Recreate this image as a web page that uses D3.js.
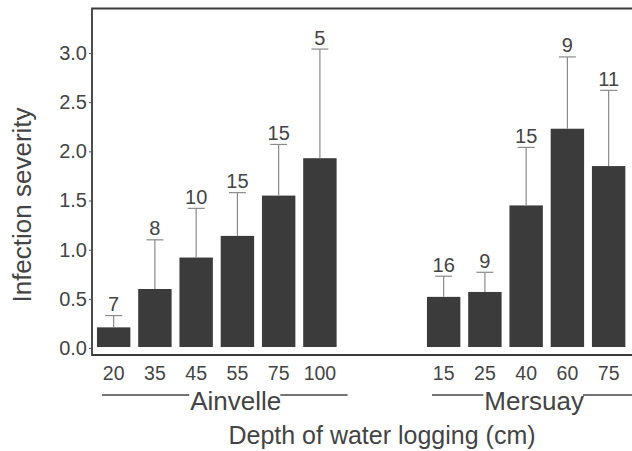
<!DOCTYPE html>
<html>
<head>
<meta charset="utf-8">
<script src="https://cdn.jsdelivr.net/npm/d3@7/dist/d3.min.js"></script>
<style>
  html, body { margin: 0; padding: 0; background: #fff; }
  svg { display: block; font-family: "Liberation Sans", Arial, Helvetica, sans-serif; }
</style>
</head>
<body>
<svg id="chart" width="632" height="451"></svg>
<script>
// Sites and the water-logging depths (cm) sampled at each
const sites = ["Ainvelle", "Mersuay"];
const ainvelleDepths = ["20", "35", "45", "55", "75", "100"];
const mersuayDepths = ["15", "25", "40", "60", "75"];

// Mean infection severity per depth
const ainvelleMeans = [0.21, 0.60, 0.92, 1.14, 1.55, 1.93];
const mersuayMeans = [0.52, 0.57, 1.45, 2.23, 1.85];

// Upper error (standard deviation) per depth
const ainvelleErrors = [0.12, 0.50, 0.50, 0.44, 0.52, 1.11];
const mersuayErrors = [0.21, 0.20, 0.59, 0.73, 0.77];

// Number of samples per depth
const ainvelleCounts = [7, 8, 10, 15, 15, 5];
const mersuayCounts = [16, 9, 15, 9, 11];

// Y axis tick values
const yTicks = [0.0, 0.5, 1.0, 1.5, 2.0, 2.5, 3.0];

const groups = [
  { site: sites[0], depths: ainvelleDepths, means: ainvelleMeans, errors: ainvelleErrors, counts: ainvelleCounts },
  { site: sites[1], depths: mersuayDepths, means: mersuayMeans, errors: mersuayErrors, counts: mersuayCounts }
];

const rows = [];
groups.forEach((g, gi) => {
  g.depths.forEach((d, i) => {
    rows.push({ key: g.site + "-" + d, site: g.site, depth: d, mean: g.means[i], err: g.errors[i], n: g.counts[i], group: gi });
  });
});

// Category slots: two empty slots separate the sites
const slots = [];
groups.forEach((g, gi) => {
  if (gi > 0) { slots.push("gap-" + gi + "-a", "gap-" + gi + "-b"); }
  g.depths.forEach(d => slots.push(g.site + "-" + d));
});

const svg = d3.select("#chart");
const textColor = "#444";
const fontFamily = "'Liberation Sans', Arial, sans-serif";
const frame = { left: 92, top: 8.5, bottom: 355, right: 720 };

const x = d3.scaleBand()
  .domain(slots)
  .range([92, 630.3])
  .paddingInner(0.19)
  .paddingOuter(0.12);

const y = d3.scaleLinear()
  .domain([0, 3])
  .range([348, 53]);

// Frame around the plot (extends past the right edge)
svg.append("path")
  .attr("d", `M${frame.right},${frame.top}H${frame.left}V${frame.bottom}H${frame.right}`)
  .attr("fill", "none")
  .attr("stroke", "#3a3a3a")
  .attr("stroke-width", 1.8);

// Y axis
const yAxis = svg.append("g")
  .attr("transform", `translate(${frame.left},0)`)
  .call(d3.axisLeft(y).tickValues(yTicks).tickFormat(d3.format(".1f")).tickSize(3).tickPadding(2));
yAxis.select(".domain").remove();
yAxis.selectAll(".tick line").attr("stroke", "#555");
yAxis.selectAll(".tick text")
  .attr("font-size", 20)
  .attr("fill", textColor)
  .style("font-family", fontFamily);

// X axis: depth labels under each bar
const xAxis = svg.append("g")
  .attr("transform", `translate(0,${frame.bottom})`)
  .call(d3.axisBottom(x)
    .tickValues(rows.map(r => r.key))
    .tickFormat(k => k.split("-")[1])
    .tickSize(0)
    .tickPadding(11));
xAxis.select(".domain").remove();
xAxis.selectAll(".tick text")
  .attr("font-size", 19.5)
  .attr("fill", textColor)
  .style("font-family", fontFamily);

// Bars
svg.append("g").selectAll("rect")
  .data(rows)
  .join("rect")
  .attr("x", d => x(d.key))
  .attr("width", x.bandwidth())
  .attr("y", d => y(d.mean))
  .attr("height", d => y(0) - 1 - y(d.mean))
  .attr("fill", "#3b3b3b");

// Error bars
const capHalf = 8.5;
const eb = svg.append("g").attr("stroke", "#8a8a8a").attr("stroke-width", 1.2);
eb.selectAll("line.stem")
  .data(rows)
  .join("line")
  .attr("class", "stem")
  .attr("x1", d => x(d.key) + x.bandwidth() / 2)
  .attr("x2", d => x(d.key) + x.bandwidth() / 2)
  .attr("y1", d => y(d.mean))
  .attr("y2", d => y(d.mean + d.err));
eb.selectAll("line.cap")
  .data(rows)
  .join("line")
  .attr("class", "cap")
  .attr("x1", d => x(d.key) + x.bandwidth() / 2 - capHalf)
  .attr("x2", d => x(d.key) + x.bandwidth() / 2 + capHalf)
  .attr("y1", d => y(d.mean + d.err))
  .attr("y2", d => y(d.mean + d.err));

// Sample counts above the error bars
svg.append("g").selectAll("text")
  .data(rows)
  .join("text")
  .attr("x", d => x(d.key) + x.bandwidth() / 2)
  .attr("y", d => y(d.mean + d.err) - 4.5)
  .attr("text-anchor", "middle")
  .attr("font-size", 20)
  .attr("fill", textColor)
  .text(d => d.n);

// Site labels with rules on both sides
const labelShift = [19, 8];
groups.forEach((g, gi) => {
  const first = g.site + "-" + g.depths[0];
  const last = g.site + "-" + g.depths[g.depths.length - 1];
  const x0 = x(first), x1 = x(last) + x.bandwidth();
  const cx = (x0 + x1) / 2 + labelShift[gi];
  const lineY = 395;
  const t = svg.append("text")
    .attr("x", cx)
    .attr("y", 410)
    .attr("text-anchor", "middle")
    .attr("font-size", 26)
    .attr("fill", textColor)
    .text(g.site);
  const w = t.node().getComputedTextLength();
  svg.append("line")
    .attr("x1", x0 + 5).attr("x2", cx - w / 2 - 1)
    .attr("y1", lineY).attr("y2", lineY)
    .attr("stroke", "#444").attr("stroke-width", 1.5);
  svg.append("line")
    .attr("x1", cx + w / 2 - 1).attr("x2", x1 + 11)
    .attr("y1", lineY).attr("y2", lineY)
    .attr("stroke", "#444").attr("stroke-width", 1.5);
});

// Axis titles
svg.append("text")
  .attr("x", 382)
  .attr("y", 444)
  .attr("text-anchor", "middle")
  .attr("font-size", 25)
  .attr("fill", textColor)
  .text("Depth of water logging (cm)");

svg.append("text")
  .attr("transform", "translate(31,205) rotate(-90)")
  .attr("text-anchor", "middle")
  .attr("font-size", 26)
  .attr("fill", textColor)
  .text("Infection severity");
</script>
</body>
</html>
